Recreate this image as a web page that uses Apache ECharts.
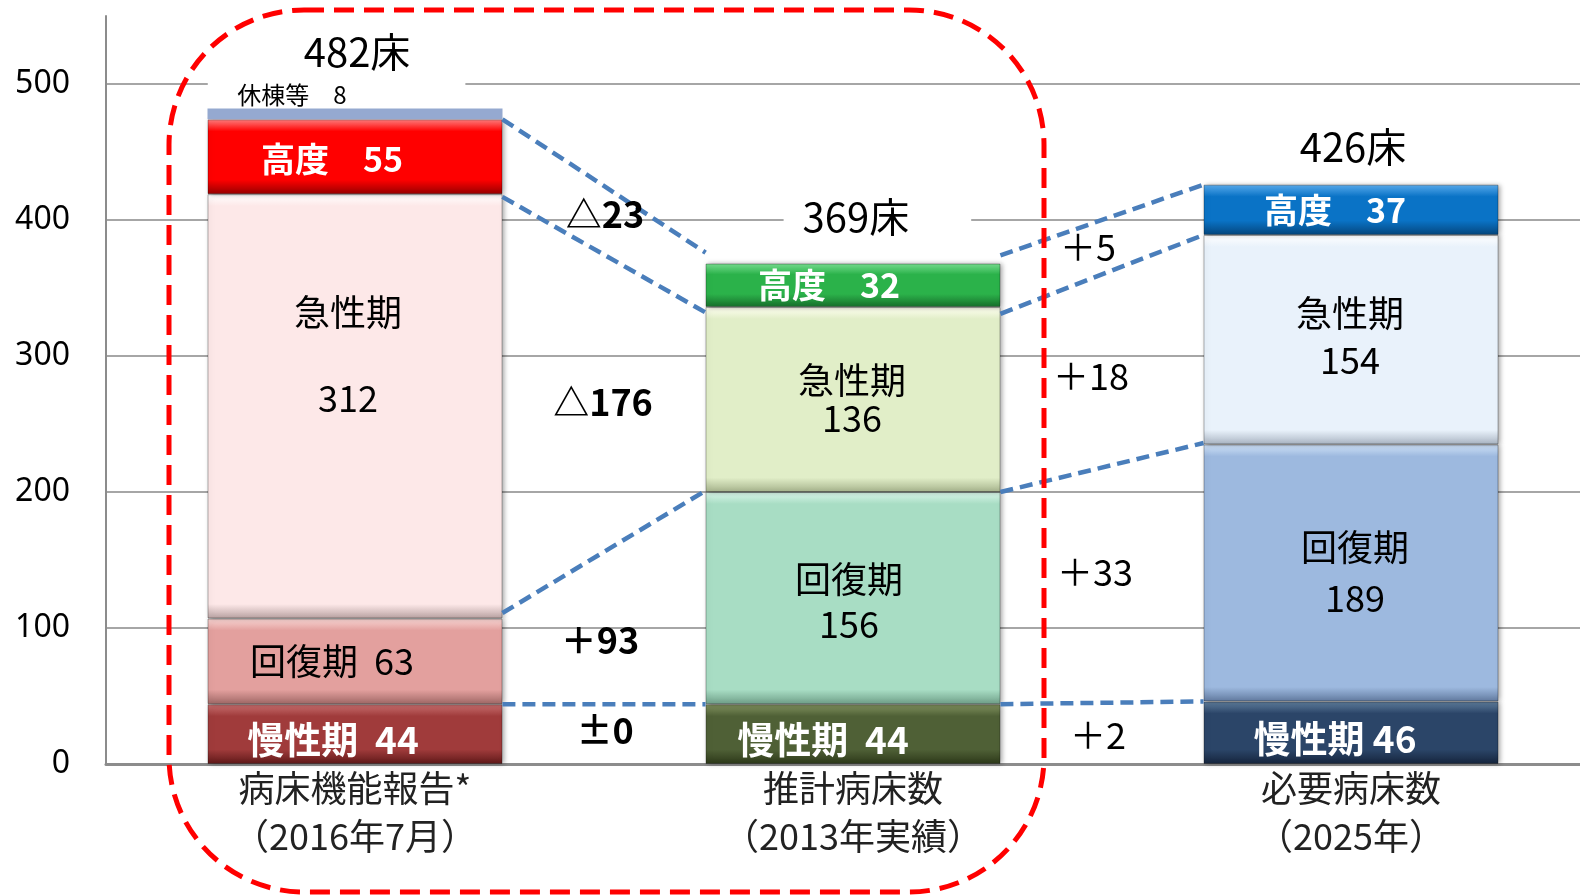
<!DOCTYPE html>
<html>
<head>
<meta charset="utf-8">
<script src="https://cdn.jsdelivr.net/npm/echarts@6/dist/echarts.min.js"></script>
<style>
  html, body { margin: 0; padding: 0; background: #fff; }
  #chart { width: 1580px; height: 895px; }
</style>
</head>
<body>
<div id="chart"></div>
<script>
// 分類・データ
const categories = ['病床機能報告*\n（2016年7月）', '推計病床数\n（2013年実績）', '必要病床数\n（2025年）']
const chronic = [44, 44, 46]     // 慢性期
const recovery = [63, 156, 189]  // 回復期
const acute = [312, 136, 154]    // 急性期
const advanced = [55, 32, 37]    // 高度
const idle = [8, null, null]     // 休棟等
const totals = ['482床', '369床', '426床']
const yTicks = [0, 100, 200, 300, 400, 500]

// 増減（下から：慢性期, 回復期, 急性期, 高度）
const diffLeft = ['±0', '＋93', '△176', '△23']
const diffRight = ['＋2', '＋33', '＋18', '＋5']

// 破線の両端の値（左棒の右端 → 右棒の左端）
const linksLeft = [[44, 44], [111, 201], [417, 332], [474, 376]]
const linksRight = [[44, 46], [200, 236], [331, 389], [374, 426]]

const FONT = '"Noto Sans CJK JP", "Noto Sans", sans-serif'
const PX_PER_UNIT = 1.361
const HALF = 0.296 // 棒の半幅（カテゴリ幅比）

// 色 [明, 基, 暗]
const colors = {
  chronic: [['#C87070', '#A03B3B', '#5E1818'], ['#82935F', '#4F6036', '#2C3819'], ['#62809F', '#2B4568', '#15243C']],
  recovery: [['#F8D6D4', '#E3A09E', '#A06866'], ['#DBF7EA', '#A8DDC4', '#6F9F88'], ['#D0E2F7', '#9DB9DF', '#627BA0']],
  acute: [['#FFFFFF', '#FDE8E8', '#B9A2A2'], ['#FFFFF2', '#E1EEC8', '#A6B38C'], ['#FFFFFF', '#E9F2FB', '#A9B4C2']],
  advanced: [['#FF8080', '#FF0000', '#960000'], ['#78DE90', '#2BB24A', '#176E2B'], ['#58AAEC', '#0A73C6', '#05467D']],
}

const bevel = (c, v) => {
  const t = Math.min(0.25, 12 / (v * PX_PER_UNIT))
  return new echarts.graphic.LinearGradient(0, 0, 0, 1, [
    { offset: 0, color: c[0] },
    { offset: t, color: c[1] },
    { offset: 1 - t * 1.2, color: c[1] },
    { offset: 1, color: c[2] },
  ])
}

const whiteBold = { color: '#fff', fontWeight: 'bold', fontSize: 34 }
const blackNorm = { color: '#000', fontSize: 36 }

// 棒内ラベルの書式
const labels = {
  chronic: [
    { ...whiteBold, fontSize: 37, formatter: p => '慢性期  ' + p.value, offset: [-22, 6] },
    { ...whiteBold, fontSize: 37, formatter: p => '慢性期  ' + p.value, offset: [-30, 6] },
    { ...whiteBold, fontSize: 37, formatter: p => '慢性期 ' + p.value, offset: [-16, 6] },
  ],
  recovery: [
    { ...blackNorm, formatter: p => '回復期  ' + p.value, offset: [-23, 0] },
    { ...blackNorm, lineHeight: 45, formatter: p => '回復期\n' + p.value, offset: [-4, 4] },
    { ...blackNorm, lineHeight: 51, formatter: p => '回復期\n' + p.value, offset: [4, 0] },
  ],
  acute: [
    { ...blackNorm, lineHeight: 43, formatter: p => '急性期\n\n' + p.value, offset: [-7, -51] },
    { ...blackNorm, lineHeight: 38, formatter: p => '急性期\n' + p.value, offset: [-1, 0] },
    { ...blackNorm, lineHeight: 47, formatter: p => '急性期\n' + p.value, offset: [-1, -3] },
  ],
  advanced: [
    { ...whiteBold, formatter: p => '高度　' + p.value, offset: [-23, 2] },
    { ...whiteBold, formatter: p => '高度　' + p.value, offset: [-24, 0] },
    { ...whiteBold, formatter: p => '高度　' + p.value, offset: [-16, 0] },
  ],
}

const segItems = (vals, key) =>
  vals.map((v, i) => ({
    value: v,
    itemStyle: { color: bevel(colors[key][i], v) },
    label: { show: true, position: 'inside', ...labels[key][i] },
  }))

const barBase = {
  type: 'bar',
  stack: 'beds',
  barWidth: 295,
  xAxisIndex: 0,
  z: 2,
  itemStyle: {
    borderColor: 'rgba(0,0,0,0.3)',
    borderWidth: 1,
    shadowColor: 'rgba(0,0,0,0.35)',
    shadowBlur: 5,
    shadowOffsetX: 2,
  },
  emphasis: { disabled: true },
}

// 注記の配置（x: カテゴリ位置, y: 軸の値）
const diffLeftPos = [[0.502, 25], [0.492, 91], [0.498, 266], [0.502, 404]]
const diffRightPos = [[1.492, 21], [1.486, 141], [1.478, 285], [1.472, 380]]
const totalPos = [[-0.037, 524], [1.049, 402], [2.004, 454]]

const annotations = [
  ...diffLeft.map((t, i) => ({
    name: t, value: diffLeftPos[i],
    label: { fontWeight: 'bold', fontSize: 36 },
  })),
  ...diffRight.map((t, i) => ({
    name: t, value: diffRightPos[i],
    label: { fontSize: 36 },
  })),
]

const totalItems = totals.map((t, i) => ({
  name: t, value: totalPos[i],
  label: i === 0
    ? { backgroundColor: '#fff', padding: [10, 55, 30, 96] }
    : i === 1 ? { backgroundColor: '#fff', padding: [4, 62, 4, 19] } : {},
}))

const linkSeries = (links, x0) => links.map(l => ({
  type: 'line',
  xAxisIndex: 1,
  z: 3,
  silent: true,
  symbol: 'none',
  lineStyle: { color: '#4A7EBB', width: 4.5, type: [13, 7] },
  data: [[x0, l[0]], [x0 + 1 - 2 * HALF, l[1]]],
}))

const textSeries = (data, z, label) => ({
  type: 'scatter',
  xAxisIndex: 1,
  z: z,
  silent: true,
  symbolSize: 1,
  itemStyle: { color: 'rgba(0,0,0,0)', opacity: 1 },
  label: { show: true, position: 'inside', color: '#000', formatter: p => p.name, ...label },
  data: data,
})

const chart = echarts.init(document.getElementById('chart'))

const option = {
  animation: false,
  textStyle: { fontFamily: FONT },
  grid: { left: 106, width: 1494, top: 16, bottom: 131, outerBoundsMode: 'none', containLabel: false },
  xAxis: [
    {
      type: 'category',
      data: categories,
      axisLine: { lineStyle: { color: '#8C8C8C', width: 3 } },
      axisTick: { show: false },
      axisLabel: { color: '#222', fontSize: 36, lineHeight: 48, margin: 0, fontFamily: FONT },
    },
    { type: 'value', min: -0.5, max: 2.5, show: false },
  ],
  yAxis: {
    type: 'value',
    min: 0,
    max: 550,
    interval: 100,
    axisLine: { show: true, onZero: false, lineStyle: { color: '#8C8C8C', width: 2 } },
    axisTick: { show: false },
    axisLabel: {
      color: '#000', fontSize: 32, margin: 36, fontFamily: '"Noto Sans", sans-serif',
      formatter: v => (yTicks.includes(v) ? v : ''),
    },
    splitLine: {
      lineStyle: {
        color: ['#A6A6A6', '#A6A6A6', '#A6A6A6', '#A6A6A6', '#A6A6A6', '#A6A6A6', 'rgba(0,0,0,0)'],
        width: 2,
      },
    },
  },
  series: [
    { ...barBase, name: '慢性期', data: segItems(chronic, 'chronic') },
    { ...barBase, name: '回復期', data: segItems(recovery, 'recovery') },
    { ...barBase, name: '急性期', data: segItems(acute, 'acute') },
    { ...barBase, name: '高度', data: segItems(advanced, 'advanced') },
    {
      ...barBase,
      name: '休棟等',
      itemStyle: { color: '#95A9D0' },
      data: idle,
      label: {
        show: true, position: 'top', distance: 2, offset: [-63, 0],
        color: '#000', fontSize: 24,
        formatter: p => (p.value == null ? '' : '休棟等　' + p.value),
      },
    },
    ...linkSeries(linksLeft, HALF),
    ...linkSeries(linksRight, 1 + HALF),
    textSeries(totalItems, 1, { fontSize: 40 }),
    textSeries(annotations, 4, {}),
  ],
  graphic: [
    {
      type: 'rect',
      z: 100,
      silent: true,
      shape: { x: 169, y: 10, width: 875, height: 882, r: 135 },
      style: { fill: 'none', stroke: '#FF0000', lineWidth: 5, lineDash: [20, 10] },
    },
  ],
}

chart.setOption(option)
</script>
</body>
</html>
